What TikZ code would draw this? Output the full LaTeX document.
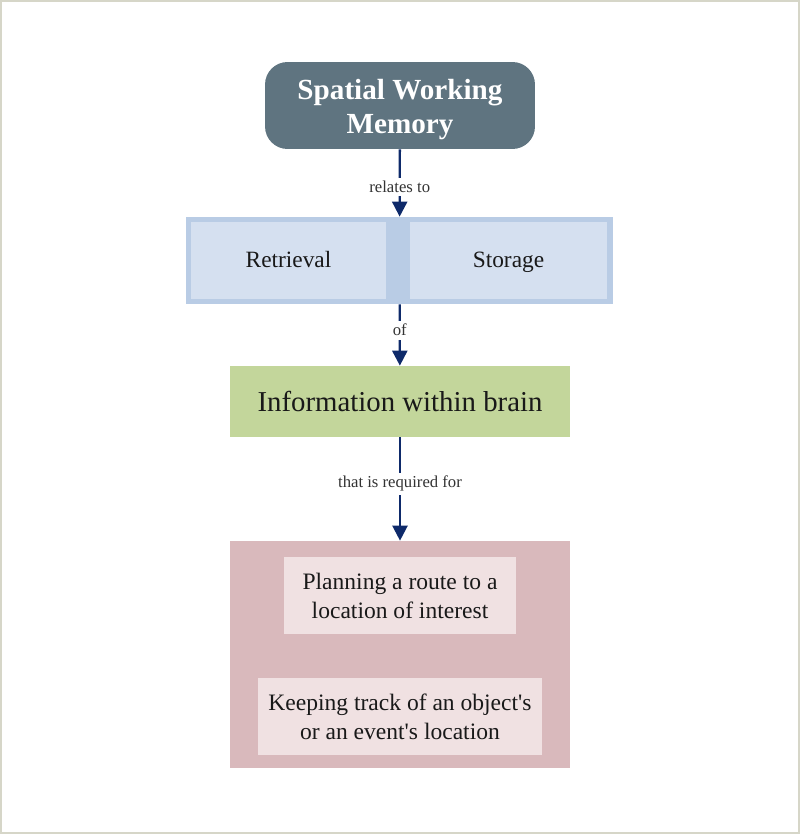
\documentclass[tikz,border=0pt]{standalone}
\usepackage{fontspec}
\setmainfont{Liberation Serif}
\usetikzlibrary{arrows.meta}
\definecolor{slate}{HTML}{5F7480}
\definecolor{blueframe}{HTML}{B9CCE5}
\definecolor{bluefill}{HTML}{D5E0F0}
\definecolor{greenfill}{HTML}{C3D69B}
\definecolor{pinkfill}{HTML}{D9B9BC}
\definecolor{pinklight}{HTML}{F0E1E2}
\definecolor{navy}{HTML}{0E2A6A}
\definecolor{pageline}{HTML}{D6D6C8}
\begin{document}
\begin{tikzpicture}[x=0.02cm, y=-0.02cm]
	\useasboundingbox (0,0) rectangle (800,834);
	\draw [pageline, line width=1.2pt] (1,1) rectangle (799,833);
	\begin{scope}[every node/.style={inner sep=0pt, align=center, text=black!90}]
		\node (swm)[fill=slate, rounded corners=0.45cm, minimum width=5.4cm, minimum height=1.74cm, text=white, font=\bfseries\fontsize{16.6}{19.5}\selectfont] at (400,105.5) {\\[-3pt]Spatial Working\\Memory};
		\node (mem)[fill=blueframe, minimum width=8.54cm, minimum height=1.74cm] at (399.5,260.5) {};
		\node (retr)[fill=bluefill, minimum width=3.9cm, minimum height=1.54cm, text height=2.2ex, text depth=0.4ex, font=\fontsize{13.3}{16}\selectfont] at (288.5,260.5) {Retrieval};
		\node (stor)[fill=bluefill, minimum width=3.94cm, minimum height=1.54cm, text height=2.2ex, text depth=0.4ex, font=\fontsize{13.3}{16}\selectfont] at (508.5,260.5) {Storage};
		\node (info)[fill=greenfill, minimum width=6.8cm, minimum height=1.42cm, font=\fontsize{16.4}{19}\selectfont] at (400,401.5) {Information within brain};
		\node (uses)[fill=pinkfill, minimum width=6.8cm, minimum height=4.54cm] at (400,654.5) {};
		\node (plan)[fill=pinklight, minimum width=4.64cm, minimum height=1.54cm, font=\fontsize{13.4}{16.5}\selectfont] at (400,595.5) {Planning a route to a\\location of interest};
		\node (track)[fill=pinklight, minimum width=5.68cm, minimum height=1.54cm, font=\fontsize{13.4}{16.5}\selectfont] at (400,716.5) {Keeping track of an object\textquotesingle s\\or an event\textquotesingle s location};
	\end{scope}
	\begin{scope}[every edge/.style={draw, navy, line width=1.3pt}, every node/.style={fill=white, inner sep=2pt, text=black!80, font=\fontsize{9.5}{11}\selectfont}]
		\path [-{Triangle[width=0.3cm, length=0.3cm]}] (swm) edge node [pos=0.56] {relates to} (mem);
		\path [-{Triangle[width=0.3cm, length=0.3cm]}] (mem) edge node [pos=0.42] {of} (info);
		\path [-{Triangle[width=0.3cm, length=0.3cm]}] (info) edge node [pos=0.45] {that is required for} (uses);
	\end{scope}
\end{tikzpicture}
\end{document}
